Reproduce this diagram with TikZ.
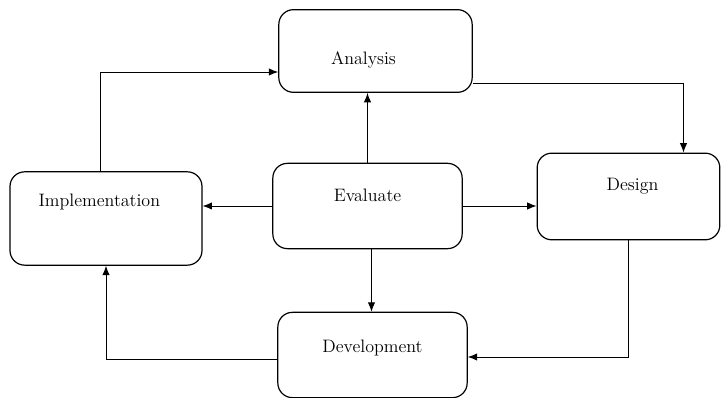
\documentclass[tikz,border=0pt]{standalone}
\usepackage{tikz}
\usetikzlibrary{arrows.meta,calc}

\begin{document}
\begin{tikzpicture}[x=0.75pt,y=0.75pt,yscale=-1,xscale=1,
        stagebox/.style={draw, line width=0.9pt, rounded corners=11pt, inner sep=0pt},
        flow/.style={line width=0.7pt, -{Latex[length=7pt,width=5.5pt]}},
        font=\fontsize{13.5}{16}\selectfont]
        \useasboundingbox (0,0) rectangle (722,398);
        \node [stagebox, minimum width=145pt, minimum height=62pt, label={[xshift=-9pt,yshift=-7pt]center:Analysis}] (analysis) at (375.5,51) {};
        \node [stagebox, minimum width=144pt, minimum height=70pt, label={[xshift=-5pt,yshift=12pt]center:Implementation}] (impl) at (106,218.5) {};
        \node [stagebox, minimum width=142pt, minimum height=64pt, label={[yshift=8pt]center:Evaluate}] (eval) at (367.5,206) {};
        \node [stagebox, minimum width=137pt, minimum height=65pt, label={[xshift=3pt,yshift=8pt]center:Design}] (design) at (628.5,196.5) {};
        \node [stagebox, minimum width=142pt, minimum height=64pt, label={[yshift=5pt]center:Development}] (devel) at (372.5,355) {};
        \coordinate (evaldown) at ($(eval.south)+(4,0)$);
        \draw [flow] ($(impl.north)+(-6,0)$) |- ($(analysis.west)+(0,21)$);
        \draw [flow] ($(analysis.east)+(0,32)$) -| ($(design.north)+(55,0)$);
        \draw [flow] (eval.north) -- (eval.north |- analysis.south);
        \draw [flow] (eval.west) -- (eval.west -| impl.east);
        \draw [flow] (eval.east) -- (eval.east -| design.west);
        \draw [flow] (evaldown) -- (evaldown |- devel.north);
        \draw [flow] (design.south) |- ($(devel.east)+(0,2)$);
        \draw [flow] ($(devel.west)+(0,4)$) -| (impl.south);
        \end{tikzpicture}
\end{document}
